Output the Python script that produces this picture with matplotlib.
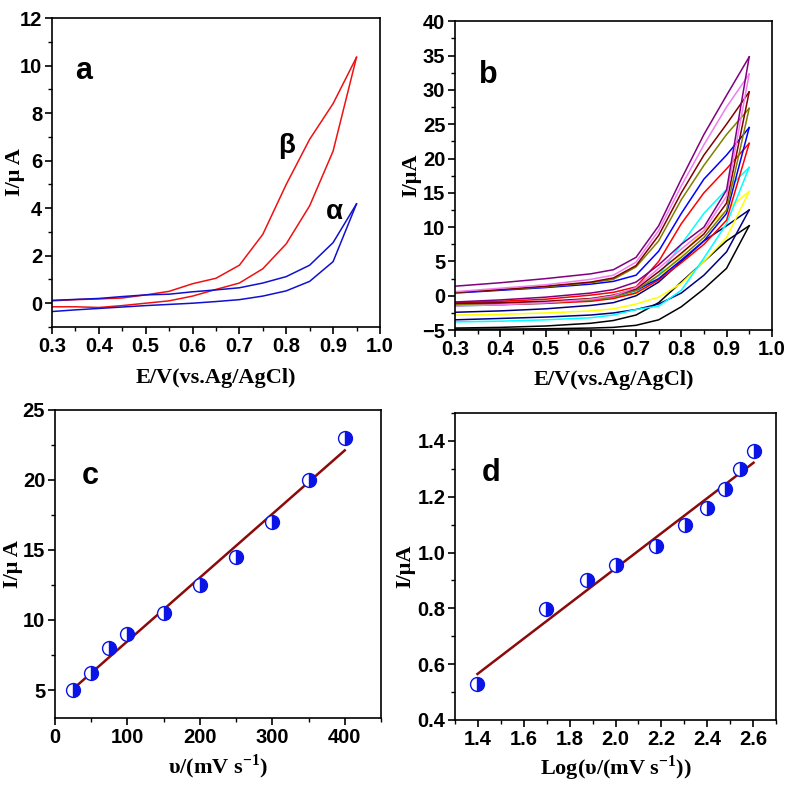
import numpy as np
import matplotlib
matplotlib.use("Agg")
import matplotlib.pyplot as plt
from matplotlib.ticker import MultipleLocator

plt.rcParams['font.family'] = ['Liberation Sans', 'DejaVu Sans']
plt.rcParams['mathtext.fontset'] = 'custom'
plt.rcParams['mathtext.rm'] = 'Liberation Serif:bold'
plt.rcParams['mathtext.bf'] = 'Liberation Serif:bold'

# ---- panel a : CV of alpha / beta ----
E_a = [0.30, 0.35, 0.40, 0.45, 0.50, 0.55, 0.60, 0.65, 0.70, 0.75, 0.80, 0.85, 0.90, 0.95]
beta_fwd = [0.10, 0.15, 0.18, 0.22, 0.35, 0.50, 0.82, 1.05, 1.60, 2.90, 5.00, 6.90, 8.40, 10.35]
beta_rev = [-0.15, -0.15, -0.18, -0.10, 0.00, 0.10, 0.30, 0.58, 0.85, 1.45, 2.50, 4.10, 6.40, 10.35]
alpha_fwd = [0.12, 0.16, 0.20, 0.28, 0.35, 0.38, 0.48, 0.56, 0.65, 0.85, 1.12, 1.60, 2.55, 4.18]
alpha_rev = [-0.35, -0.28, -0.22, -0.16, -0.10, -0.05, 0.00, 0.07, 0.15, 0.30, 0.52, 0.92, 1.75, 4.18]

# ---- panel b : CVs at different scan rates ----
E_b = [0.30, 0.40, 0.50, 0.60, 0.65, 0.70, 0.75, 0.80, 0.85, 0.90, 0.95]
b_colors = ['black', '#000080', '#FFFF00', '#00FFFF', '#FF0000',
            '#0000FF', '#808000', '#800000', '#F07CF0', '#800080']
b_fwd = [
    [-4.7, -4.6, -4.4, -4.0, -3.6, -2.8, -1.0, 2.0, 5.0, 8.0, 10.2],
    [-2.4, -2.2, -1.9, -1.4, -1.0, 0.0, 2.0, 5.0, 8.0, 10.2, 12.5],
    [-1.3, -1.2, -1.0, -0.6, -0.3, 0.3, 2.5, 6.0, 9.5, 12.5, 15.2],
    [-1.5, -1.3, -1.1, -0.7, -0.3, 0.5, 3.0, 7.5, 12.0, 15.5, 18.7],
    [-1.0, -0.8, -0.5, 0.1, 0.5, 1.3, 5.0, 10.5, 15.0, 18.5, 22.2],
    [0.4, 0.8, 1.2, 1.7, 2.1, 3.0, 6.5, 12.0, 17.0, 20.5, 24.5],
    [0.5, 0.9, 1.3, 1.9, 2.4, 4.2, 8.0, 14.0, 19.0, 23.5, 27.3],
    [0.5, 0.9, 1.4, 2.0, 2.6, 4.4, 8.8, 15.0, 20.5, 25.0, 29.7],
    [0.6, 1.1, 1.6, 2.4, 3.0, 4.9, 9.5, 16.0, 22.0, 27.5, 32.3],
    [1.4, 1.9, 2.5, 3.2, 3.8, 5.6, 10.2, 17.0, 23.5, 29.2, 34.8],
]
b_rev = [
    [-4.85, -4.85, -4.8, -4.7, -4.6, -4.3, -3.5, -1.6, 1.0, 4.0, 10.2],
    [-3.5, -3.3, -3.1, -2.8, -2.5, -2.0, -1.2, 0.4, 3.0, 6.4, 12.5],
    [-2.8, -2.7, -2.5, -2.2, -1.9, -1.2, -0.2, 1.8, 5.0, 8.5, 15.2],
    [-3.8, -3.7, -3.5, -3.2, -2.8, -2.0, -1.5, 0.8, 5.5, 10.5, 18.7],
    [-1.4, -1.3, -1.1, -0.8, -0.4, 0.4, 2.3, 4.8, 7.5, 11.0, 22.2],
    [-1.2, -1.1, -0.9, -0.5, -0.1, 0.8, 2.5, 5.2, 8.0, 12.0, 24.5],
    [-1.3, -1.2, -1.0, -0.6, -0.2, 0.8, 3.0, 5.6, 8.5, 12.5, 27.3],
    [-1.1, -1.0, -0.8, -0.4, 0.1, 1.0, 3.5, 6.2, 9.0, 13.5, 29.7],
    [-1.5, -1.3, -1.0, -0.5, 0.0, 1.2, 4.0, 6.8, 9.5, 14.5, 32.3],
    [-0.9, -0.6, -0.2, 0.4, 0.9, 2.0, 4.5, 7.5, 10.0, 15.4, 34.8],
]

# ---- panel c / d : peak current vs scan rate ----
scan_rate = [25, 50, 75, 100, 150, 200, 250, 300, 350, 400]
ip = [5.0, 6.2, 8.0, 9.0, 10.5, 12.5, 14.5, 17.0, 20.0, 23.0]
log_rate = [1.398, 1.699, 1.875, 2.000, 2.176, 2.301, 2.398, 2.477, 2.544, 2.602]
log_ip = [0.530, 0.797, 0.903, 0.955, 1.022, 1.097, 1.161, 1.229, 1.301, 1.362]

fig = plt.figure(figsize=(7.92, 7.86), dpi=100)
ax_a = fig.add_axes([0.0657, 0.584, 0.414, 0.393])
ax_b = fig.add_axes([0.5745, 0.580, 0.400, 0.393])
ax_c = fig.add_axes([0.0694, 0.0865, 0.4116, 0.392])
ax_d = fig.add_axes([0.5745, 0.084, 0.4053, 0.3906])

serif = dict(family='Liberation Serif', weight='bold', size=16)


def style(ax, xmaj, xmin, ymaj, ymin, xlab, ylab, ylx, xly, letter, lpos):
    ax.xaxis.set_major_locator(MultipleLocator(xmaj))
    ax.xaxis.set_minor_locator(MultipleLocator(xmin))
    ax.yaxis.set_major_locator(MultipleLocator(ymaj))
    ax.yaxis.set_minor_locator(MultipleLocator(ymin))
    ax.tick_params(which='major', direction='out', length=5, width=1.2,
                   labelsize=14.5, pad=2)
    ax.tick_params(which='minor', direction='out', length=3, width=1.0)
    for lab in ax.get_xticklabels() + ax.get_yticklabels():
        lab.set_fontweight('bold')
    for s in ax.spines.values():
        s.set_linewidth(1.2)
    ax.set_xlabel(xlab, fontdict=serif)
    ax.set_ylabel(ylab, fontdict=serif)
    ax.xaxis.set_label_coords(0.5, xly)
    ax.xaxis.label.set_verticalalignment('center')
    ax.yaxis.set_label_coords(ylx, 0.5)
    ax.yaxis.label.set_verticalalignment('center')
    ax.text(lpos[0], lpos[1], letter, transform=ax.transAxes, fontsize=22,
            fontweight='bold', ha='center', va='center')


# panel a
ax_a.plot(E_a, beta_fwd, color='#EE1111', lw=1.1)
ax_a.plot(E_a, beta_rev, color='#EE1111', lw=1.1)
ax_a.plot(E_a, alpha_fwd, color='#1010D0', lw=1.1)
ax_a.plot(E_a, alpha_rev, color='#1010D0', lw=1.1)
ax_a.set_xlim(0.3, 1.0)
ax_a.set_ylim(-1, 12)
ax_a.text(0.80, 6.6, 'β', fontsize=20, fontweight='bold', ha='center', va='center')
ax_a.text(0.902, 3.85, 'α', fontsize=20, fontweight='bold', ha='center', va='center')
style(ax_a, 0.1, 0.05, 2, 1, 'E/V(vs.Ag/AgCl)', 'I/μ A', -0.113, -0.165, 'a', (0.095, 0.83))

# panel b
for col, f, r in zip(b_colors, b_fwd, b_rev):
    ax_b.plot(E_b, f, color=col, lw=1.1)
    ax_b.plot(E_b, r, color=col, lw=1.1)
ax_b.set_xlim(0.3, 1.0)
ax_b.set_ylim(-5, 40)
style(ax_b, 0.1, 0.05, 5, 2.5, 'E/V(vs.Ag/AgCl)', 'I/μA', -0.139, -0.162, 'b', (0.104, 0.825))

# panel c
mk = dict(marker='o', ls='none', ms=10, color='#0A14E6', fillstyle='right',
          markerfacecoloralt='white', mew=1.0)
k, b0 = np.polyfit(scan_rate, ip, 1)
xs = np.array([scan_rate[0], scan_rate[-1]])
ax_c.plot(xs, k * xs + b0, color='#8B0A0A', lw=1.8)
ax_c.plot(scan_rate, ip, **mk)
ax_c.set_xlim(0, 450)
ax_c.set_ylim(3, 25)
style(ax_c, 100, 50, 5, 2.5, r'υ/(mV s$^{-1}$)', 'I/μ A', -0.129, -0.159, 'c', (0.107, 0.786))

# panel d
k2, b2 = np.polyfit(log_rate, log_ip, 1)
xs2 = np.array([log_rate[0], log_rate[-1]])
ax_d.plot(xs2, k2 * xs2 + b2, color='#8B0A0A', lw=1.8)
ax_d.plot(log_rate, log_ip, **mk)
ax_d.set_xlim(1.3, 2.7)
ax_d.set_ylim(0.4, 1.5)
style(ax_d, 0.2, 0.1, 0.2, 0.1, r'Log(υ/(mV s$^{-1}$))', 'I/μA', -0.155, -0.156, 'd', (0.112, 0.805))

fig.savefig('out.png', dpi=100)
